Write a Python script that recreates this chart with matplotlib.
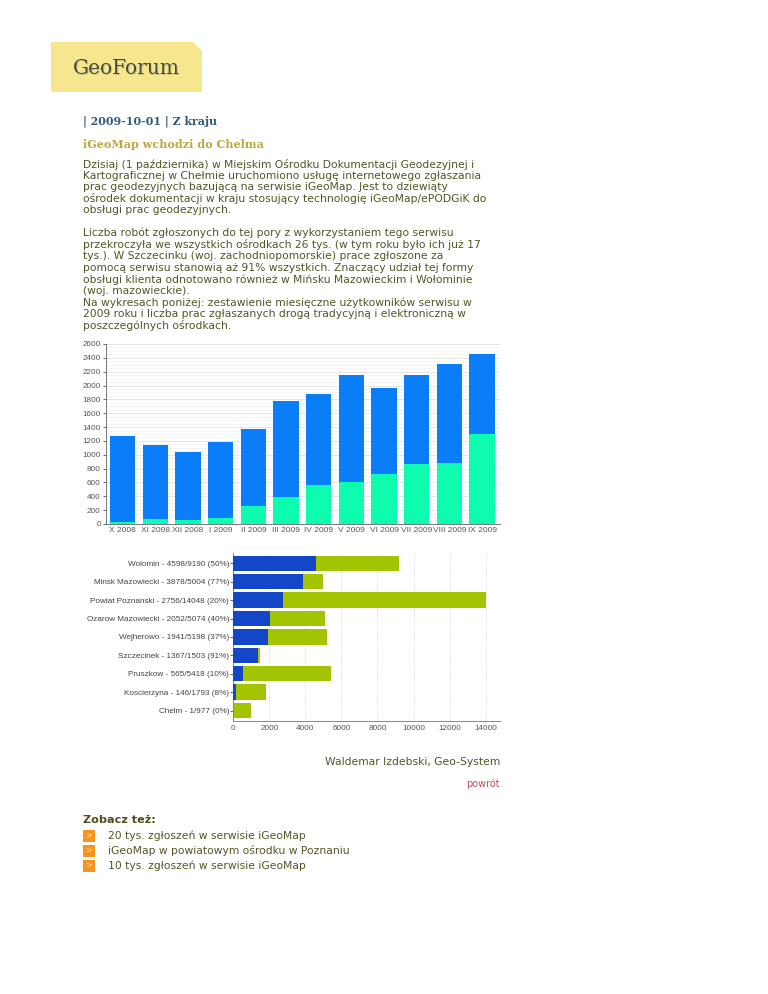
import matplotlib.pyplot as plt
import matplotlib.patches as mpatches
import numpy as np

# monthly users of the service (total / electronic part)
months = ['X 2008', 'XI 2008', 'XII 2008', 'I 2009', 'II 2009', 'III 2009',
          'IV 2009', 'V 2009', 'VI 2009', 'VII 2009', 'VIII 2009', 'IX 2009']
month_total = [1267, 1137, 1040, 1189, 1367, 1781, 1882, 2147, 1959, 2152, 2311, 2456]
month_green = [33, 72, 53, 82, 260, 390, 568, 607, 722, 867, 886, 1295]

# offices: electronic / all
offices = ['Wolomin', 'Minsk Mazowiecki', 'Powiat Poznanski', 'Ozarow Mazowiecki',
           'Wejherowo', 'Szczecinek', 'Pruszkow', 'Koscierzyna', 'Chelm']
office_elec = [4598, 3878, 2756, 2052, 1941, 1367, 565, 146, 1]
office_all = [9190, 5004, 14048, 5074, 5198, 1503, 5418, 1793, 977]
office_pct = [50, 77, 20, 40, 37, 91, 10, 8, 0]

W, H = 768, 994
fig = plt.figure(figsize=(W / 100, H / 100), dpi=100)

# page layer in pixel coordinates
page = fig.add_axes([0, 0, 1, 1])
page.set_xlim(0, W)
page.set_ylim(H, 0)
page.axis('off')

txt = '#545424'
body = dict(fontsize=7.75, color=txt, family='DejaVu Sans', va='center')

# header box with cut corner
page.add_patch(mpatches.Polygon([(51, 42), (193, 42), (202, 51), (202, 92), (51, 92)],
                                closed=True, facecolor='#f6e78e', edgecolor='none'))
page.text(127.5, 69.5, 'GeoForum', fontsize=14.5, family='DejaVu Serif', color='#d3c880',
          ha='center', va='center')
page.text(126.5, 68, 'GeoForum', fontsize=14.5, family='DejaVu Serif', color='#454c3e',
          ha='center', va='center')

page.text(83, 121, '| 2009-10-01 | Z kraju', fontsize=7.9, family='DejaVu Serif',
          weight='bold', color='#2f5876', va='center')
page.text(83, 145, 'iGeoMap wchodzi do Chelma', fontsize=8.0, family='DejaVu Serif',
          weight='bold', color='#b9aa3c', va='center')

par1 = ['Dzisiaj (1 października) w Miejskim Ośrodku Dokumentacji Geodezyjnej i',
        'Kartograficznej w Chełmie uruchomiono usługę internetowego zgłaszania',
        'prac geodezyjnych bazującą na serwisie iGeoMap. Jest to dziewiąty',
        'ośrodek dokumentacji w kraju stosujący technologię iGeoMap/ePODGiK do',
        'obsługi prac geodezyjnych.']
par2 = ['Liczba robót zgłoszonych do tej pory z wykorzystaniem tego serwisu',
        'przekroczyła we wszystkich ośrodkach 26 tys. (w tym roku było ich już 17',
        'tys.). W Szczecinku (woj. zachodniopomorskie) prace zgłoszone za',
        'pomocą serwisu stanowią aż 91% wszystkich. Znaczący udział tej formy',
        'obsługi klienta odnotowano również w Mińsku Mazowieckim i Wołominie',
        '(woj. mazowieckie).',
        'Na wykresach poniżej: zestawienie miesięczne użytkowników serwisu w',
        '2009 roku i liczba prac zgłaszanych drogą tradycyjną i elektroniczną w',
        'poszczególnych ośrodkach.']
for i, line in enumerate(par1):
    page.text(83, 164 + i * 11.6, line, **body)
for i, line in enumerate(par2):
    page.text(83, 233 + i * 11.6, line, **body)

page.text(500, 762, 'Waldemar Izdebski, Geo-System', ha='right', **body)
page.text(500, 784, 'powrót', ha='right', fontsize=7.0, color='#c8485a',
          family='DejaVu Sans', va='center')

page.text(83, 820, 'Zobacz też:', fontsize=8.1, weight='bold', color='#4e4e1c',
          family='DejaVu Sans', va='center')
links = ['20 tys. zgłoszeń w serwisie iGeoMap',
         'iGeoMap w powiatowym ośrodku w Poznaniu',
         '10 tys. zgłoszeń w serwisie iGeoMap']
for i, line in enumerate(links):
    y = 835.5 + i * 15.2
    page.add_patch(mpatches.Rectangle((83, y - 6), 12, 12, facecolor='#f7941d',
                                      edgecolor='none'))
    page.text(89, y - 0.5, '>', fontsize=6, color='#fde2b0', ha='center', va='center',
              family='DejaVu Sans')
    page.text(108, y, line, **body)


def box(l, t, r, b):
    return [l / W, 1 - b / H, (r - l) / W, (b - t) / H]


chart_font = 'Liberation Sans'

# monthly chart
ax1 = fig.add_axes(box(105.7, 344, 500, 524))
x = np.arange(len(months))
ax1.bar(x, month_total, width=0.78, color='#0a7ef8', zorder=2)
ax1.bar(x, month_green, width=0.78, color='#0efcb0', zorder=3)
ax1.set_xlim(-0.52, 11.55)
ax1.set_ylim(0, 2600)
ax1.set_yticks(np.arange(0, 2601, 200))
ax1.set_yticks(np.arange(0, 2601, 50), minor=True)
ax1.set_xticks(x)
ax1.set_xticklabels(months)
ax1.grid(axis='y', which='major', color='#e2e2e2', lw=0.6, zorder=0)
ax1.grid(axis='y', which='minor', color='#f0f0f0', lw=0.5, zorder=0)
ax1.tick_params(axis='y', which='minor', length=0)
ax1.tick_params(axis='y', labelsize=5.9, colors='#555555', length=2.5, width=0.6, pad=1)
ax1.tick_params(axis='x', labelsize=6.0, colors='#555555', length=0, pad=2.5)
for lab in ax1.get_xticklabels() + ax1.get_yticklabels():
    lab.set_family(chart_font)
for s in ['top', 'right']:
    ax1.spines[s].set_visible(False)
for s in ['left', 'bottom']:
    ax1.spines[s].set_color('#777777')
    ax1.spines[s].set_linewidth(0.7)

# offices chart
ax2 = fig.add_axes(box(233.3, 553, 500, 721))
y = np.arange(len(offices))
ax2.barh(y, office_all, height=0.84, color='#a3c400', zorder=2)
ax2.barh(y, office_elec, height=0.84, color='#1446c8', zorder=3)
ax2.set_ylim(8.57, -0.56)
ax2.set_xlim(0, 14800)
ax2.set_xticks(np.arange(0, 14001, 2000))
ax2.set_yticks(y)
ax2.set_yticklabels([f'{n} - {e}/{a} ({p}%)' for n, e, a, p in
                     zip(offices, office_elec, office_all, office_pct)])
ax2.grid(axis='x', color='#c8c8c8', lw=0.6, ls=':', zorder=0)
ax2.tick_params(axis='y', labelsize=5.9, colors='#444444', length=2, width=0.6, pad=1)
ax2.tick_params(axis='x', labelsize=5.9, colors='#555555', length=0, pad=3)
for lab in ax2.get_xticklabels() + ax2.get_yticklabels():
    lab.set_family(chart_font)
for s in ['top', 'right']:
    ax2.spines[s].set_visible(False)
for s in ['left', 'bottom']:
    ax2.spines[s].set_color('#888888')
    ax2.spines[s].set_linewidth(0.7)

fig.savefig('out.png', dpi=100)
